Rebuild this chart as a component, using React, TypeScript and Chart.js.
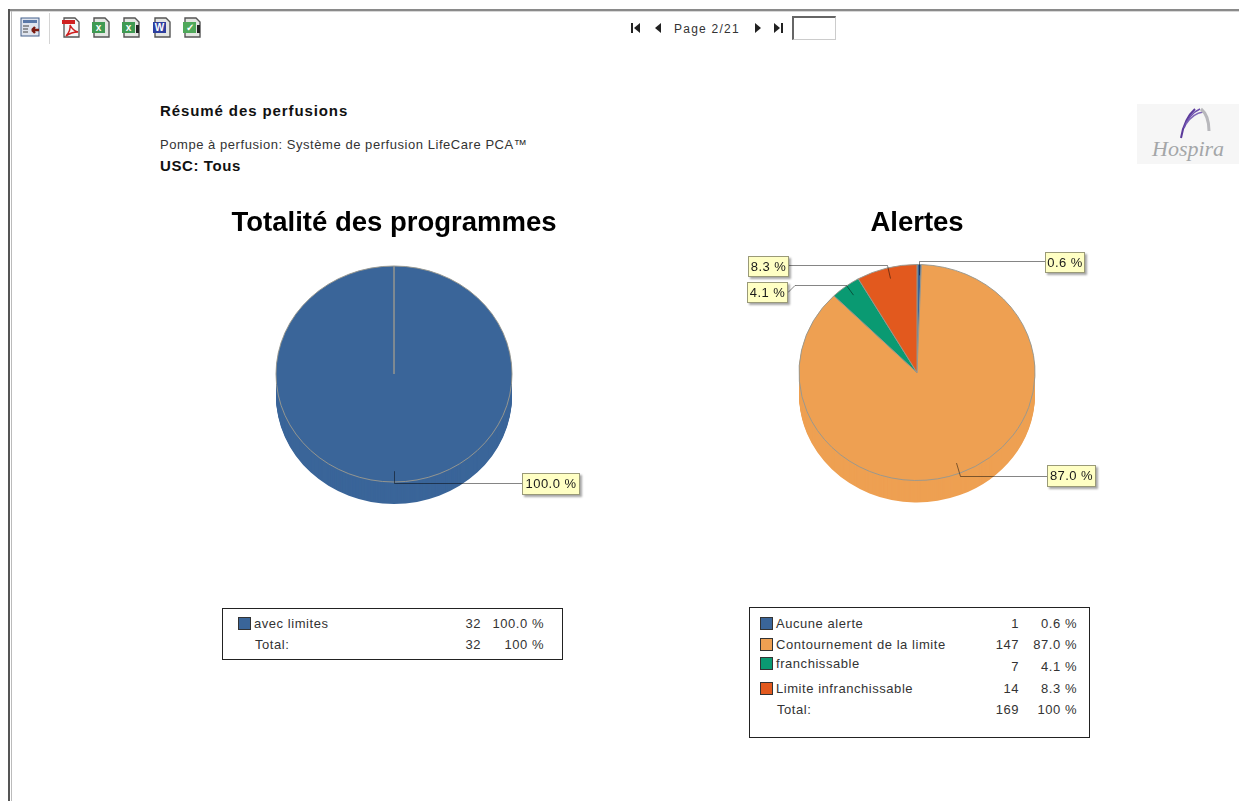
import React, { useEffect, useRef } from "react";
import { Chart, registerables } from "chart.js";

Chart.register(...registerables);

const FONT = '"Liberation Sans", Arial, sans-serif';

const programCategories = ["avec limites"];
const programCounts = [32];
const programPercents = ["100.0 %"];
const programColors = ["#3a6599"];
const programTotals = ["32", "100 %"];

const alertCategories = ["Aucune alerte", "Contournement de la limite", "franchissable", "Limite infranchissable"];
const alertCounts = [1, 147, 7, 14];
const alertPercents = ["0.6 %", "87.0 %", "4.1 %", "8.3 %"];
const alertColors = ["#3a6599", "#eea052", "#0a9a72", "#e2591e"];
const alertTotals = ["169", "100 %"];

// Callout boxes, in page pixels: [left, top, width, height, y of the leader line]
const programCallouts = [[522, 473, 58, 22, 483.5]];
const alertCallouts = [
  [1045, 252, 40, 21, 261.5],
  [1047, 465, 49, 22, 476.5],
  [747, 282, 41, 21, 285.5],
  [748, 256, 41, 21, 265.5],
];

const Y_SQUASH = 108 / 118;
const DEPTH = 22;

const piePlugin = {
  id: "tiltedPie",
  beforeDatasetsDraw(chart: any) {
    const { ctx } = chart;
    const arcs = chart.getDatasetMeta(0).data;
    const cy = arcs[0].y;
    ctx.save();
    ctx.translate(0, cy);
    ctx.scale(1, Y_SQUASH);
    ctx.translate(0, -cy);
    for (let d = DEPTH; d > 0; d--) {
      ctx.save();
      ctx.translate(0, d / Y_SQUASH);
      arcs.forEach((arc: any) => {
        const o = arc.options;
        arc.options = { ...o, borderWidth: 0 };
        arc.draw(ctx);
        arc.options = o;
      });
      ctx.restore();
    }
  },
  afterDatasetsDraw(chart: any) {
    chart.ctx.restore();
  },
  afterDraw(chart: any, _args: any, opts: any) {
    const { ctx } = chart;
    const rect = opts.origin;
    const arcs = chart.getDatasetMeta(0).data;
    arcs.forEach((arc: any, i: number) => {
      const c = opts.callouts[i];
      const mid = (arc.startAngle + arc.endAngle) / 2;
      const sin = Math.cos(mid);
      const cos = Math.sin(mid);
      const r = arc.outerRadius;
      const ax = arc.x + r * sin * 0.9;
      const ay = arc.y + r * Y_SQUASH * cos * 0.9;
      const ex = arc.x + r * sin;
      const bx = c[0] - rect[0];
      const by = c[1] - rect[1];
      const bw = c[2];
      const bh = c[3];
      const ly = c[4] - rect[1];
      const boxMid = by + bh / 2;
      const toRight = bx > arc.x;
      const edge = toRight ? bx : bx + bw;
      ctx.save();
      ctx.globalCompositeOperation = "multiply";
      ctx.strokeStyle = "#858585";
      ctx.lineWidth = 1;
      ctx.beginPath();
      ctx.moveTo(Math.round(ax) + 0.5, ay);
      ctx.lineTo(Math.round(ex) + 0.5, ly);
      if (Math.abs(boxMid - ly) > 3) {
        ctx.lineTo(edge + (toRight ? -7 : 7), ly);
        ctx.lineTo(edge, boxMid);
      } else {
        ctx.lineTo(edge, ly);
      }
      ctx.stroke();
      ctx.restore();

      ctx.save();
      ctx.shadowColor = "rgba(0,0,0,0.35)";
      ctx.shadowBlur = 2;
      ctx.shadowOffsetX = 2;
      ctx.shadowOffsetY = 2;
      ctx.fillStyle = "#ffffc4";
      ctx.fillRect(bx, by, bw, bh);
      ctx.restore();
      ctx.save();
      ctx.strokeStyle = "#9a9a78";
      ctx.strokeRect(bx + 0.5, by + 0.5, bw - 1, bh - 1);
      ctx.fillStyle = "#1a1a1a";
      ctx.font = `13px ${FONT}`;
      (ctx as any).letterSpacing = "0.45px";
      ctx.textAlign = "center";
      ctx.textBaseline = "middle";
      ctx.fillText(opts.labels[i], bx + bw / 2, by + bh / 2 + 0.5);
      ctx.restore();
    });
  },
};

function Pie(props: { title: string; values: number[]; labels: string[]; colors: string[]; categories: string[]; callouts: number[][]; rect: number[] }) {
  const ref = useRef<HTMLCanvasElement>(null);
  const { title, values, labels, colors, categories, callouts, rect } = props;
  useEffect(() => {
    const chart = new Chart(ref.current as HTMLCanvasElement, {
      type: "pie",
      data: {
        labels: categories,
        datasets: [
          {
            data: values,
            backgroundColor: colors,
            borderColor: "#98988f",
            borderWidth: 1,
            radius: 118,
            clip: false,
          } as any,
        ],
      },
      options: {
        responsive: false,
        animation: false,
        events: [],
        layout: { padding: { top: 0, bottom: rect[4] } },
        plugins: {
          legend: { display: false },
          tooltip: { enabled: false },
          title: {
            display: true,
            text: title,
            color: "#000000",
            font: { family: FONT, size: 27.5, weight: "bold" },
            padding: { top: 6.5, bottom: 0 },
          },
          tiltedPie: { callouts, labels, origin: rect },
        } as any,
      },
      plugins: [piePlugin as any],
    });
    return () => chart.destroy();
  }, []);
  return (
    <canvas
      ref={ref}
      width={rect[2]}
      height={rect[3]}
      style={{ position: "absolute", left: rect[0], top: rect[1], width: rect[2], height: rect[3] }}
    />
  );
}

const abs = (left: number, top: number, extra: React.CSSProperties = {}): React.CSSProperties => ({
  position: "absolute",
  left,
  top,
  whiteSpace: "nowrap",
  ...extra,
});

function Legend(props: {
  box: number[];
  swatchX: number;
  textX: number;
  countRight: number;
  pctRight: number;
  rows: number[];
  labelShift: number[];
  categories: string[];
  colors: string[];
  counts: number[];
  pcts: string[];
  totals: string[];
}) {
  const { box, swatchX, textX, countRight, pctRight, rows, labelShift, categories, colors, counts, pcts, totals } = props;
  const text: React.CSSProperties = { fontFamily: FONT, fontSize: 13, letterSpacing: 0.55, color: "#333", lineHeight: "16px" };
  const right = (r: number, y: number, s: string, k: string) => (
    <div key={k} style={{ ...text, position: "absolute", left: r - 80, width: 80, top: y - 8, textAlign: "right" }}>{s}</div>
  );
  const n = categories.length;
  return (
    <>
      <div style={abs(box[0], box[1], { width: box[2] - 2, height: box[3] - 2, border: "1px solid #222", background: "#fff" })} />
      {categories.map((c, i) => (
        <React.Fragment key={c}>
          <div style={abs(swatchX, rows[i] + labelShift[i] - 7, { width: 11, height: 11, background: colors[i], border: "1px solid #333" })} />
          <div style={{ ...text, ...abs(textX, rows[i] + labelShift[i] - 8) }}>{c}</div>
          {right(countRight, rows[i], String(counts[i]), c + "n")}
          {right(pctRight, rows[i], pcts[i], c + "p")}
        </React.Fragment>
      ))}
      <div style={{ ...text, ...abs(textX + 1, rows[n] - 8) }}>Total:</div>
      {right(countRight, rows[n], totals[0], "tn")}
      {right(pctRight, rows[n], totals[1], "tp")}
    </>
  );
}

function DocIcon({ x, color, mark, dark }: { x: number; color: string; mark: string; dark?: boolean }) {
  return (
    <svg style={abs(x, 17)} width={20} height={22} viewBox="0 0 20 22">
      <path d="M3 1h11l4 4v15H3z" fill="#e4e6e2" stroke="#555" strokeWidth="1.4" />
      <rect x="1" y="5" width="13" height="11" fill={color} />
      <text x="7.5" y="14" fontSize="10" fontWeight="bold" textAnchor="middle" fill="#fff" fontFamily={FONT}>{mark}</text>
      {dark ? <rect x="15" y="8" width="3" height="8" fill="#222" /> : null}
    </svg>
  );
}

function Toolbar() {
  return (
    <>
      <div style={abs(8, 9, { width: 1231, height: 2, background: "#8a8a8a" })} />
      <div style={abs(8, 11, { width: 1231, height: 1, background: "#d8d8d8" })} />
      <div style={abs(8, 9, { width: 2, height: 792, background: "#555" })} />
      <div style={abs(11, 11, { width: 1, height: 790, background: "#bbb" })} />
      <svg style={abs(20, 17)} width={20} height={20} viewBox="0 0 20 20">
        <rect x="1" y="1" width="18" height="18" fill="#dfe4ee" stroke="#44608c" />
        <rect x="3" y="3" width="14" height="3" fill="#5a78a8" />
        <path d="M3 9h6M3 12h5M3 15h5" stroke="#444" />
        <path d="M19 13h-7M12 13l3-3M12 13l3 3" stroke="#7a1a10" strokeWidth="2.4" fill="none" />
      </svg>
      <div style={abs(49, 13, { width: 1, height: 31, background: "#d4d4d4" })} />
      <svg style={abs(61, 17)} width={20} height={22} viewBox="0 0 20 22">
        <path d="M3 1h11l4 4v15H3z" fill="#f6f6f6" stroke="#555" strokeWidth="1.3" />
        <rect x="1" y="3" width="13" height="4" fill="#cf2020" />
        <path d="M5 19c3-3 5-8 4-11 2 4 4 6 8 7-4 0-8 1-12 4z" fill="none" stroke="#cf2020" strokeWidth="1.5" />
      </svg>
      <DocIcon x={91} color="#3f9a52" mark="x" />
      <DocIcon x={121} color="#3f9a52" mark="x" dark />
      <DocIcon x={152} color="#2e3f9e" mark="W" />
      <DocIcon x={182} color="#4fa85a" mark="✓" dark />
      <svg style={abs(630, 22)} width={16} height={12} viewBox="0 0 16 12">
        <path d="M2 1v10" stroke="#222" strokeWidth="2" />
        <path d="M10 1v10L4 6z" fill="#222" />
      </svg>
      <svg style={abs(653, 22)} width={10} height={12} viewBox="0 0 10 12">
        <path d="M8 1v10L2 6z" fill="#222" />
      </svg>
      <div style={{ ...abs(674, 22), fontFamily: FONT, fontSize: 12, letterSpacing: 1.25, lineHeight: "14px", color: "#333" }}>Page 2/21</div>
      <svg style={abs(753, 22)} width={10} height={12} viewBox="0 0 10 12">
        <path d="M2 1v10l6-5z" fill="#222" />
      </svg>
      <svg style={abs(772, 22)} width={14} height={12} viewBox="0 0 14 12">
        <path d="M2 1v10l6-5z" fill="#222" />
        <path d="M10 1v10" stroke="#222" strokeWidth="2" />
      </svg>
      <div
        style={abs(792, 16, {
          width: 41,
          height: 21,
          background: "#fff",
          borderTop: "2px solid #666",
          borderLeft: "2px solid #666",
          borderRight: "1px solid #ccc",
          borderBottom: "1px solid #ccc",
        })}
      />
    </>
  );
}

function Logo() {
  return (
    <>
      <div style={abs(1137, 104, { width: 102, height: 60, background: "#f6f6f6" })} />
      <svg style={abs(1175, 104)} width={40} height={38} viewBox="0 0 40 38">
        <path d="M6 34C8 22 12 12 20 5" stroke="#5b3a9a" strokeWidth="2" fill="none" />
        <path d="M9 24C12 16 18 8 25 5" stroke="#6d4fae" strokeWidth="1.6" fill="none" />
        <path d="M11 20C15 14 21 9 28 8" stroke="#7f66b8" strokeWidth="1.4" fill="none" />
        <path d="M26 5c5 4 8 11 8 22" stroke="#b8b8bc" strokeWidth="3" fill="none" />
      </svg>
      <div style={{ ...abs(1152, 136), fontFamily: '"Liberation Serif", serif', fontStyle: "italic", fontSize: 22, lineHeight: "26px", color: "#a4a6a8" }}>Hospira</div>
    </>
  );
}

export default function App() {
  useEffect(() => {
    document.body.style.margin = "0";
    document.body.style.background = "#fff";
  }, []);
  return (
    <div style={{ position: "fixed", left: 0, top: 0, width: 1239, height: 801, overflow: "hidden", background: "#fff", filter: "blur(0.5px)" }}>
      <Toolbar />
      <div style={{ ...abs(160, 102), fontFamily: FONT, fontWeight: "bold", fontSize: 15, letterSpacing: 0.9, lineHeight: "17px", color: "#111" }}>Résumé des perfusions</div>
      <div style={{ ...abs(160, 137), fontFamily: FONT, fontSize: 13, letterSpacing: 0.55, lineHeight: "16px", color: "#333" }}>Pompe à perfusion: Système de perfusion LifeCare PCA™</div>
      <div style={{ ...abs(160, 157), fontFamily: FONT, fontWeight: "bold", fontSize: 15, letterSpacing: 0.6, lineHeight: "17px", color: "#111" }}>USC: Tous</div>
      <Logo />
      <Pie
        title="Totalité des programmes"
        values={programCounts}
        labels={programPercents}
        colors={programColors}
        categories={programCategories}
        callouts={programCallouts}
        rect={[144, 200, 500, 400, 91.5]}
      />
      <Pie
        title="Alertes"
        values={alertCounts}
        labels={alertPercents}
        colors={alertColors}
        categories={alertCategories}
        callouts={alertCallouts}
        rect={[667, 200, 500, 400, 94.5]}
      />
      <Legend
        box={[222, 608, 341, 52]}
        swatchX={238}
        textX={254}
        countRight={481}
        pctRight={544}
        rows={[624, 645]}
        labelShift={[0]}
        categories={programCategories}
        colors={programColors}
        counts={programCounts}
        pcts={programPercents}
        totals={programTotals}
      />
      <Legend
        box={[749, 607, 341, 131]}
        swatchX={760}
        textX={776}
        countRight={1019}
        pctRight={1077}
        rows={[624, 645, 667, 689, 710]}
        labelShift={[0, 0, -3, 0]}
        categories={alertCategories}
        colors={alertColors}
        counts={alertCounts}
        pcts={alertPercents}
        totals={alertTotals}
      />
    </div>
  );
}
